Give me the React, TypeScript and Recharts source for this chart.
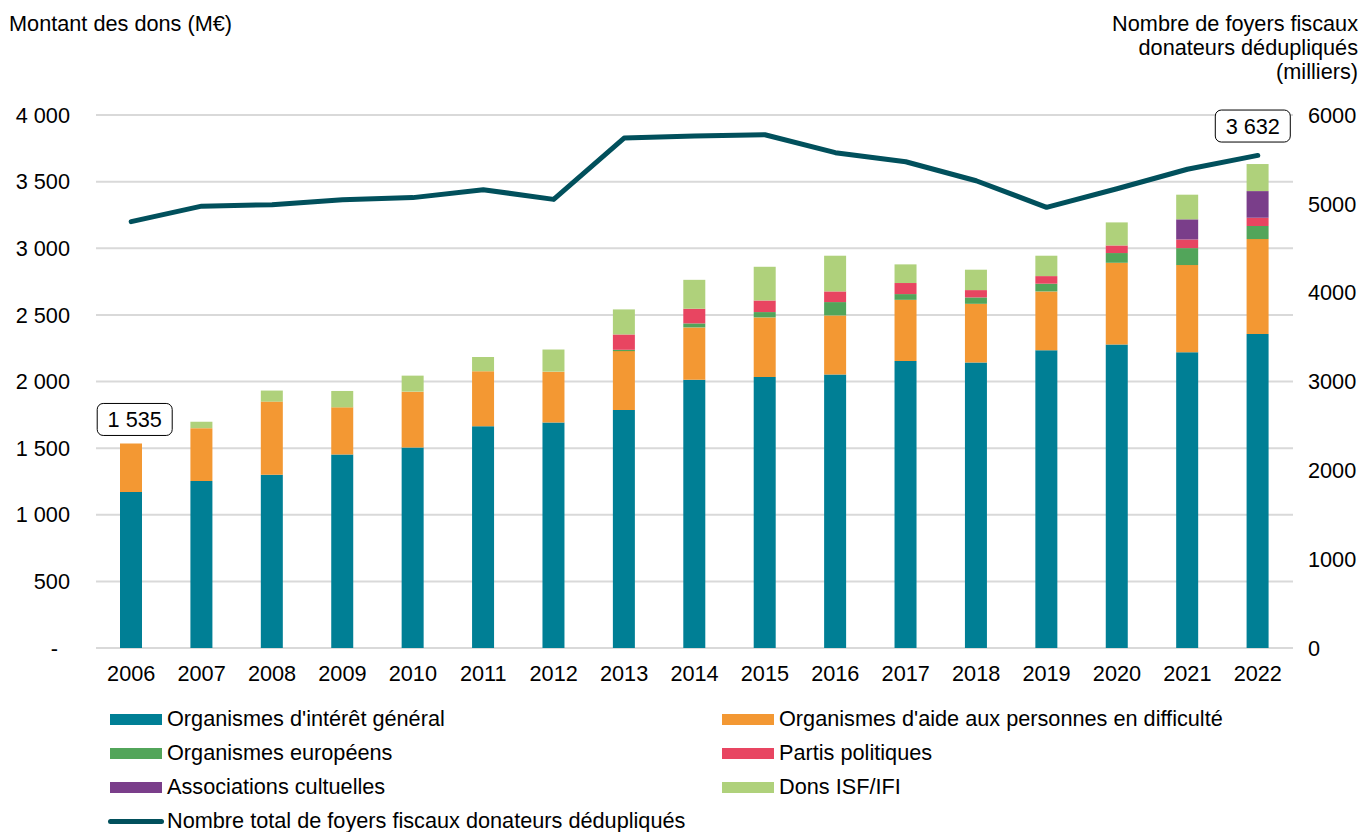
import React from 'react';
import {
  ComposedChart, Bar, Line, XAxis, YAxis, CartesianGrid, LabelList
} from 'recharts';

const YEARS = ['2006', '2007', '2008', '2009', '2010', '2011', '2012', '2013', '2014', '2015', '2016', '2017', '2018', '2019', '2020', '2021', '2022'];

// Montants (M€) par type d'organisme
const INTERET_GENERAL = [1170, 1253, 1301, 1452, 1505, 1664, 1693, 1786, 2013, 2033, 2053, 2153, 2143, 2235, 2278, 2220, 2356];
const AIDE_PERSONNES = [365, 397, 548, 354, 419, 413, 381, 442, 393, 448, 443, 460, 440, 441, 613, 654, 713];
const EUROPEENS = [0, 0, 0, 0, 0, 0, 0, 10, 30, 40, 100, 43, 48, 58, 73, 127, 98];
const PARTIS = [0, 0, 0, 0, 0, 0, 0, 115, 110, 87, 80, 83, 55, 57, 57, 65, 62];
const CULTUELLES = [0, 0, 0, 0, 0, 0, 0, 0, 0, 0, 0, 0, 0, 0, 0, 151, 200];
const ISF_IFI = [0, 48, 83, 123, 120, 107, 166, 188, 217, 253, 268, 140, 153, 153, 173, 185, 203];

// Nombre de foyers fiscaux donateurs dédupliqués (milliers)
const FOYERS = [4800, 4974, 4990, 5046, 5070, 5159, 5050, 5740, 5764, 5778, 5576, 5474, 5260, 4961, 5170, 5389, 5545];

const LEFT_TICKS = [0, 500, 1000, 1500, 2000, 2500, 3000, 3500, 4000];
const RIGHT_TICKS = [0, 1000, 2000, 3000, 4000, 5000, 6000];

const C = {
  interet: '#007f95',
  aide: '#f39833',
  euro: '#52a55a',
  partis: '#e84561',
  cultuelles: '#7a3e8a',
  isf: '#afd17b',
  foyers: '#01505c',
  grid: '#d9d9d9',
};

const FONT = '"Liberation Sans", Arial, sans-serif';
const FS = 21.7;

const totals = YEARS.map((_, i) =>
  INTERET_GENERAL[i] + AIDE_PERSONNES[i] + EUROPEENS[i] + PARTIS[i] + CULTUELLES[i] + ISF_IFI[i]
);

const data = YEARS.map((year, i) => ({
  year,
  interet: INTERET_GENERAL[i],
  aide: AIDE_PERSONNES[i],
  euro: EUROPEENS[i],
  partis: PARTIS[i],
  cultuelles: CULTUELLES[i],
  isf: ISF_IFI[i],
  total: totals[i],
  foyers: FOYERS[i],
}));

const fmtSpace = (v: number) => String(v).replace(/\B(?=(\d{3})+(?!\d))/g, ' ');

// étiquettes de total (premier et dernier exercice seulement)
const BOX_OFFSET: Record<number, { dx: number; dy: number }> = {
  0: { dx: 3.5, dy: -24 },
  16: { dx: -5, dy: -38 },
};

const renderTotal = (props: any) => {
  const { x, y, index, value } = props;
  const off = BOX_OFFSET[index];
  if (!off) return null;
  const cx = Number(x) + off.dx;
  const cy = Number(y) + off.dy;
  return (
    <g key={`tot-${index}`}>
      <rect x={cx - 37.5} y={cy - 16} width={75} height={32} rx={6} fill="#fff" stroke="#000" strokeWidth={1} />
      <text x={cx} y={cy} dy="0.36em" textAnchor="middle" fontSize={FS} fill="#000" fontFamily={FONT}>
        {fmtSpace(Number(value))}
      </text>
    </g>
  );
};

const LEGEND_BARS = [
  { label: "Organismes d'intérêt général", color: C.interet, col: 0, row: 0 },
  { label: "Organismes d'aide aux personnes en difficulté", color: C.aide, col: 1, row: 0 },
  { label: 'Organismes européens', color: C.euro, col: 0, row: 1 },
  { label: 'Partis politiques', color: C.partis, col: 1, row: 1 },
  { label: 'Associations cultuelles', color: C.cultuelles, col: 0, row: 2 },
  { label: 'Dons ISF/IFI', color: C.isf, col: 1, row: 2 },
];

const COL_X = [110, 722];
const ROW_TOP = 702;
const ROW_H = 34;

const App: React.FC = () => {
  return (
    <div style={{ position: 'absolute', left: 0, top: 0, width: 1362, height: 832, background: '#fff', fontFamily: FONT, color: '#000' }}>
      <ComposedChart
        width={1362}
        height={832}
        data={data}
        margin={{ top: 115, right: 0, left: 0, bottom: 0 }}
      >
        <CartesianGrid yAxisId="left" vertical={false} stroke={C.grid} strokeWidth={2} />
        <XAxis
          dataKey="year"
          height={184}
          axisLine={false}
          tickLine={false}
          tickMargin={12}
          interval={0}
          tick={{ fill: '#000', fontSize: FS }}
        />
        <YAxis
          yAxisId="left"
          width={96}
          domain={[0, 4000]}
          ticks={LEFT_TICKS}
          axisLine={false}
          tickLine={false}
          tickMargin={20}
          tick={{ fill: '#000', fontSize: FS }}
          tickFormatter={(v: number) => (v === 0 ? '-\u00a0\u00a0' : fmtSpace(v))}
        />
        <YAxis
          yAxisId="right"
          orientation="right"
          width={69}
          domain={[0, 6000]}
          ticks={RIGHT_TICKS}
          axisLine={false}
          tickLine={false}
          tickMargin={9}
          tick={{ fill: '#000', fontSize: FS }}
        />
        <Bar yAxisId="left" dataKey="interet" stackId="a" fill={C.interet} barSize={22} isAnimationActive={false} />
        <Bar yAxisId="left" dataKey="aide" stackId="a" fill={C.aide} barSize={22} isAnimationActive={false} />
        <Bar yAxisId="left" dataKey="euro" stackId="a" fill={C.euro} barSize={22} isAnimationActive={false} />
        <Bar yAxisId="left" dataKey="partis" stackId="a" fill={C.partis} barSize={22} isAnimationActive={false} />
        <Bar yAxisId="left" dataKey="cultuelles" stackId="a" fill={C.cultuelles} barSize={22} isAnimationActive={false} />
        <Bar yAxisId="left" dataKey="isf" stackId="a" fill={C.isf} barSize={22} isAnimationActive={false} />
        <Line
          yAxisId="right"
          type="linear"
          dataKey="foyers"
          stroke={C.foyers}
          strokeWidth={5}
          strokeLinecap="round"
          strokeLinejoin="round"
          dot={false}
          activeDot={false}
          isAnimationActive={false}
        />
        {/* série invisible portant les étiquettes de total */}
        <Line
          yAxisId="left"
          dataKey="total"
          stroke="none"
          dot={false}
          activeDot={false}
          legendType="none"
          isAnimationActive={false}
        >
          <LabelList dataKey="total" content={renderTotal} />
        </Line>
      </ComposedChart>

      {/* titres des axes */}
      <div style={{ position: 'absolute', left: 9, top: 12, fontSize: FS, lineHeight: '24px', whiteSpace: 'nowrap' }}>
        Montant des dons (M€)
      </div>
      <div style={{ position: 'absolute', right: 4, top: 12, fontSize: FS, lineHeight: '24px', textAlign: 'right', whiteSpace: 'nowrap' }}>
        Nombre de foyers fiscaux<br />donateurs dédupliqués<br />(milliers)
      </div>

      {/* légende */}
      {LEGEND_BARS.map((item) => (
        <div
          key={item.label}
          style={{
            position: 'absolute',
            left: COL_X[item.col],
            top: ROW_TOP + item.row * ROW_H,
            height: ROW_H,
            display: 'flex',
            alignItems: 'center',
            fontSize: FS,
            lineHeight: `${ROW_H}px`,
            whiteSpace: 'nowrap',
          }}
        >
          <span style={{ display: 'inline-block', width: 52, height: 11, background: item.color, marginRight: 5 }} />
          <span>{item.label}</span>
        </div>
      ))}
      <div
        style={{
          position: 'absolute',
          left: 108,
          top: ROW_TOP + 3 * ROW_H,
          height: ROW_H,
          display: 'flex',
          alignItems: 'center',
          fontSize: FS,
          lineHeight: `${ROW_H}px`,
          whiteSpace: 'nowrap',
        }}
      >
        <span style={{ display: 'inline-block', width: 56, height: 5, borderRadius: 3, background: C.foyers, marginRight: 3 }} />
        <span>Nombre total de foyers fiscaux donateurs dédupliqués</span>
      </div>
    </div>
  );
};

export default App;
